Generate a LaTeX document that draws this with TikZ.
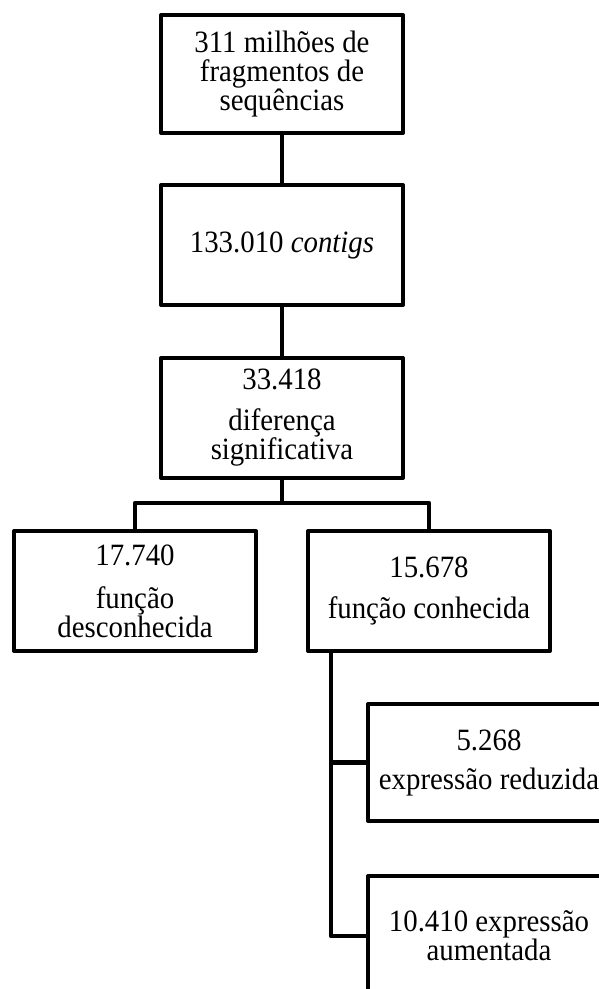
\documentclass[tikz,border=0pt]{standalone}
\usepackage{fontspec}
\setmainfont{Liberation Serif}[FakeStretch=0.93]
\tikzset{
  box/.style={draw, line width=4pt, line join=round, minimum width=242pt,
    minimum height=120pt, inner sep=0pt, align=center,
    font=\fontsize{31}{29}\selectfont},
  link/.style={line width=4.3pt, line join=round}
}
\begin{document}
\begin{tikzpicture}[x=1pt,y=-1pt]
\useasboundingbox (0,0) rectangle (599,989);
\clip (0,0) rectangle (599,989);
\node[box, minimum height=118pt] (b1) at (282,74) {311 milhões de\\fragmentos de\\sequências};
\node[box] (b2) at (282,245) {133.010 \textit{contigs}};
\node[box] (b3) at (282,418) {33.418\\[12pt]diferença\\significativa};
\node[box] (b4) at (135,591) {17.740\\[14pt]função\\desconhecida};
\node[box] (b5) at (429,591) {15.678\\[12pt]função conhecida};
\node[box, minimum height=117pt] (b6) at (489,762.5) {5.268\\[10pt]expressão reduzida};
\node[box] (b7) at (489,936) {10.410 expressão\\aumentada};
\coordinate (bus) at (282,503);
\coordinate (trunk) at (331,700);
\draw[link] (b1.south) -- (b2.north);
\draw[link] (b2.south) -- (b3.north);
\draw[link] (b3.south) -- (bus);
\draw[link] (b4.north) |- (bus) -| (b5.north);
\draw[link] (b5.south -| trunk) -- (b7.west -| trunk) -- (b7.west);
\draw[link] (b6.west -| trunk) -- (b6.west);
\end{tikzpicture}
\end{document}
